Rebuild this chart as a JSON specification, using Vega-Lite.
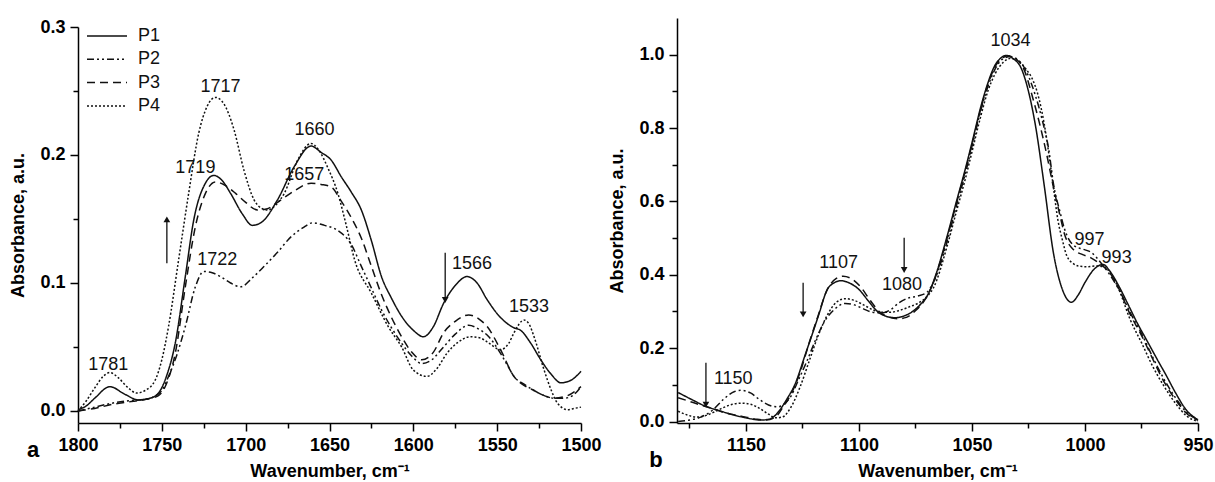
{
"$schema": "https://vega.github.io/schema/vega-lite/v6.json",
"padding": {"left": 9, "top": 18, "right": 0, "bottom": 0},
"spacing": 6,
"config": {
  "view": {"stroke": null},
  "font": "Liberation Sans",
  "axis": {"domainColor": "#000", "domainWidth": 1.5, "tickColor": "#000", "tickWidth": 1.5, "labelColor": "#000", "labelFont": "Liberation Sans", "labelFontSize": 18, "labelFontWeight": "bold", "titleColor": "#000", "titleFont": "Liberation Sans", "titleFontSize": 18, "titleFontWeight": "bold", "grid": false, "labelFlush": false, "labelOverlap": false},
  "text": {"font": "Liberation Sans", "fontSize": 18, "color": "#111"}
},
"datasets": {
  "specA": [
    {"s":"P1","wn":1800,"a":0.001},{"s":"P1","wn":1795,"a":0.004},{"s":"P1","wn":1790,"a":0.010},{"s":"P1","wn":1781,"a":0.019},{"s":"P1","wn":1772,"a":0.013},{"s":"P1","wn":1764,"a":0.0086},{"s":"P1","wn":1757,"a":0.010},{"s":"P1","wn":1752,"a":0.014},{"s":"P1","wn":1747,"a":0.028},{"s":"P1","wn":1742,"a":0.053},{"s":"P1","wn":1736,"a":0.105},{"s":"P1","wn":1731,"a":0.149},{"s":"P1","wn":1724,"a":0.178},{"s":"P1","wn":1719,"a":0.184},{"s":"P1","wn":1714,"a":0.180},{"s":"P1","wn":1709,"a":0.170},{"s":"P1","wn":1702,"a":0.154},{"s":"P1","wn":1696,"a":0.145},{"s":"P1","wn":1690,"a":0.148},{"s":"P1","wn":1681,"a":0.165},{"s":"P1","wn":1671,"a":0.191},{"s":"P1","wn":1661,"a":0.207},{"s":"P1","wn":1655,"a":0.202},{"s":"P1","wn":1649,"a":0.196},{"s":"P1","wn":1643,"a":0.183},{"s":"P1","wn":1637,"a":0.171},{"s":"P1","wn":1631,"a":0.157},{"s":"P1","wn":1625,"a":0.133},{"s":"P1","wn":1619,"a":0.105},{"s":"P1","wn":1613,"a":0.088},{"s":"P1","wn":1607,"a":0.074},{"s":"P1","wn":1600,"a":0.063},{"s":"P1","wn":1594,"a":0.058},{"s":"P1","wn":1588,"a":0.066},{"s":"P1","wn":1582,"a":0.084},{"s":"P1","wn":1575,"a":0.098},{"s":"P1","wn":1568,"a":0.105},{"s":"P1","wn":1562,"a":0.100},{"s":"P1","wn":1556,"a":0.087},{"s":"P1","wn":1548,"a":0.073},{"s":"P1","wn":1540,"a":0.065},{"s":"P1","wn":1536,"a":0.063},{"s":"P1","wn":1530,"a":0.053},{"s":"P1","wn":1524,"a":0.040},{"s":"P1","wn":1518,"a":0.029},{"s":"P1","wn":1512,"a":0.022},{"s":"P1","wn":1506,"a":0.024},{"s":"P1","wn":1500,"a":0.031},
    {"s":"P2","wn":1800,"a":0.000},{"s":"P2","wn":1790,"a":0.003},{"s":"P2","wn":1780,"a":0.006},{"s":"P2","wn":1770,"a":0.008},{"s":"P2","wn":1760,"a":0.009},{"s":"P2","wn":1755,"a":0.011},{"s":"P2","wn":1750,"a":0.016},{"s":"P2","wn":1746,"a":0.027},{"s":"P2","wn":1741,"a":0.044},{"s":"P2","wn":1736,"a":0.066},{"s":"P2","wn":1730,"a":0.097},{"s":"P2","wn":1725,"a":0.109},{"s":"P2","wn":1720,"a":0.108},{"s":"P2","wn":1715,"a":0.105},{"s":"P2","wn":1709,"a":0.100},{"s":"P2","wn":1703,"a":0.097},{"s":"P2","wn":1696,"a":0.104},{"s":"P2","wn":1689,"a":0.113},{"s":"P2","wn":1681,"a":0.124},{"s":"P2","wn":1673,"a":0.136},{"s":"P2","wn":1666,"a":0.143},{"s":"P2","wn":1660,"a":0.147},{"s":"P2","wn":1653,"a":0.145},{"s":"P2","wn":1645,"a":0.141},{"s":"P2","wn":1637,"a":0.130},{"s":"P2","wn":1631,"a":0.113},{"s":"P2","wn":1625,"a":0.096},{"s":"P2","wn":1619,"a":0.079},{"s":"P2","wn":1613,"a":0.065},{"s":"P2","wn":1607,"a":0.053},{"s":"P2","wn":1601,"a":0.043},{"s":"P2","wn":1595,"a":0.037},{"s":"P2","wn":1589,"a":0.040},{"s":"P2","wn":1582,"a":0.050},{"s":"P2","wn":1575,"a":0.060},{"s":"P2","wn":1567,"a":0.067},{"s":"P2","wn":1561,"a":0.064},{"s":"P2","wn":1555,"a":0.058},{"s":"P2","wn":1548,"a":0.045},{"s":"P2","wn":1544,"a":0.036},{"s":"P2","wn":1540,"a":0.027},{"s":"P2","wn":1534,"a":0.021},{"s":"P2","wn":1528,"a":0.016},{"s":"P2","wn":1522,"a":0.012},{"s":"P2","wn":1516,"a":0.010},{"s":"P2","wn":1510,"a":0.010},{"s":"P2","wn":1505,"a":0.012},{"s":"P2","wn":1500,"a":0.019},
    {"s":"P3","wn":1800,"a":0.000},{"s":"P3","wn":1790,"a":0.002},{"s":"P3","wn":1780,"a":0.005},{"s":"P3","wn":1770,"a":0.007},{"s":"P3","wn":1760,"a":0.009},{"s":"P3","wn":1752,"a":0.012},{"s":"P3","wn":1747,"a":0.022},{"s":"P3","wn":1742,"a":0.045},{"s":"P3","wn":1736,"a":0.097},{"s":"P3","wn":1730,"a":0.144},{"s":"P3","wn":1724,"a":0.170},{"s":"P3","wn":1718,"a":0.179},{"s":"P3","wn":1712,"a":0.176},{"s":"P3","wn":1706,"a":0.170},{"s":"P3","wn":1700,"a":0.163},{"s":"P3","wn":1693,"a":0.157},{"s":"P3","wn":1687,"a":0.158},{"s":"P3","wn":1681,"a":0.163},{"s":"P3","wn":1671,"a":0.172},{"s":"P3","wn":1661,"a":0.178},{"s":"P3","wn":1655,"a":0.177},{"s":"P3","wn":1649,"a":0.175},{"s":"P3","wn":1643,"a":0.164},{"s":"P3","wn":1637,"a":0.151},{"s":"P3","wn":1631,"a":0.135},{"s":"P3","wn":1625,"a":0.113},{"s":"P3","wn":1619,"a":0.091},{"s":"P3","wn":1613,"a":0.073},{"s":"P3","wn":1607,"a":0.058},{"s":"P3","wn":1601,"a":0.046},{"s":"P3","wn":1595,"a":0.040},{"s":"P3","wn":1588,"a":0.046},{"s":"P3","wn":1582,"a":0.061},{"s":"P3","wn":1575,"a":0.070},{"s":"P3","wn":1567,"a":0.075},{"s":"P3","wn":1561,"a":0.072},{"s":"P3","wn":1556,"a":0.066},{"s":"P3","wn":1548,"a":0.048},{"s":"P3","wn":1540,"a":0.027},{"s":"P3","wn":1534,"a":0.020},{"s":"P3","wn":1528,"a":0.016},{"s":"P3","wn":1522,"a":0.012},{"s":"P3","wn":1516,"a":0.010},{"s":"P3","wn":1508,"a":0.012},{"s":"P3","wn":1500,"a":0.019},
    {"s":"P4","wn":1800,"a":0.000},{"s":"P4","wn":1795,"a":0.008},{"s":"P4","wn":1790,"a":0.018},{"s":"P4","wn":1785,"a":0.027},{"s":"P4","wn":1781,"a":0.030},{"s":"P4","wn":1776,"a":0.026},{"s":"P4","wn":1770,"a":0.018},{"s":"P4","wn":1765,"a":0.014},{"s":"P4","wn":1760,"a":0.016},{"s":"P4","wn":1754,"a":0.024},{"s":"P4","wn":1750,"a":0.040},{"s":"P4","wn":1746,"a":0.066},{"s":"P4","wn":1740,"a":0.118},{"s":"P4","wn":1734,"a":0.170},{"s":"P4","wn":1728,"a":0.217},{"s":"P4","wn":1723,"a":0.238},{"s":"P4","wn":1718,"a":0.245},{"s":"P4","wn":1713,"a":0.240},{"s":"P4","wn":1707,"a":0.220},{"s":"P4","wn":1701,"a":0.188},{"s":"P4","wn":1695,"a":0.165},{"s":"P4","wn":1690,"a":0.158},{"s":"P4","wn":1687,"a":0.157},{"s":"P4","wn":1682,"a":0.161},{"s":"P4","wn":1677,"a":0.170},{"s":"P4","wn":1669,"a":0.196},{"s":"P4","wn":1661,"a":0.209},{"s":"P4","wn":1656,"a":0.203},{"s":"P4","wn":1651,"a":0.190},{"s":"P4","wn":1645,"a":0.170},{"s":"P4","wn":1640,"a":0.145},{"s":"P4","wn":1635,"a":0.118},{"s":"P4","wn":1625,"a":0.092},{"s":"P4","wn":1615,"a":0.066},{"s":"P4","wn":1607,"a":0.050},{"s":"P4","wn":1600,"a":0.032},{"s":"P4","wn":1592,"a":0.027},{"s":"P4","wn":1586,"a":0.033},{"s":"P4","wn":1580,"a":0.045},{"s":"P4","wn":1573,"a":0.054},{"s":"P4","wn":1566,"a":0.058},{"s":"P4","wn":1560,"a":0.057},{"s":"P4","wn":1556,"a":0.054},{"s":"P4","wn":1548,"a":0.048},{"s":"P4","wn":1543,"a":0.053},{"s":"P4","wn":1540,"a":0.061},{"s":"P4","wn":1534,"a":0.071},{"s":"P4","wn":1531,"a":0.068},{"s":"P4","wn":1528,"a":0.058},{"s":"P4","wn":1522,"a":0.032},{"s":"P4","wn":1518,"a":0.017},{"s":"P4","wn":1514,"a":0.006},{"s":"P4","wn":1508,"a":0.001},{"s":"P4","wn":1504,"a":0.002},{"s":"P4","wn":1500,"a":0.003}
  ],
  "specB": [
    {"s":"P1","wn":1180,"a":0.079},{"s":"P1","wn":1174,"a":0.060},{"s":"P1","wn":1168,"a":0.042},{"s":"P1","wn":1162,"a":0.030},{"s":"P1","wn":1156,"a":0.019},{"s":"P1","wn":1150,"a":0.010},{"s":"P1","wn":1143,"a":0.004},{"s":"P1","wn":1139,"a":0.008},{"s":"P1","wn":1136,"a":0.024},{"s":"P1","wn":1132,"a":0.060},{"s":"P1","wn":1128,"a":0.106},{"s":"P1","wn":1124,"a":0.178},{"s":"P1","wn":1120,"a":0.250},{"s":"P1","wn":1118,"a":0.287},{"s":"P1","wn":1114,"a":0.360},{"s":"P1","wn":1111,"a":0.378},{"s":"P1","wn":1108,"a":0.384},{"s":"P1","wn":1104,"a":0.377},{"s":"P1","wn":1100,"a":0.360},{"s":"P1","wn":1096,"a":0.330},{"s":"P1","wn":1092,"a":0.301},{"s":"P1","wn":1088,"a":0.287},{"s":"P1","wn":1084,"a":0.283},{"s":"P1","wn":1080,"a":0.288},{"s":"P1","wn":1077,"a":0.297},{"s":"P1","wn":1073,"a":0.318},{"s":"P1","wn":1069,"a":0.352},{"s":"P1","wn":1066,"a":0.400},{"s":"P1","wn":1061,"a":0.505},{"s":"P1","wn":1057,"a":0.597},{"s":"P1","wn":1053,"a":0.687},{"s":"P1","wn":1050,"a":0.760},{"s":"P1","wn":1046,"a":0.860},{"s":"P1","wn":1043,"a":0.922},{"s":"P1","wn":1040,"a":0.969},{"s":"P1","wn":1037,"a":0.992},{"s":"P1","wn":1035,"a":0.998},{"s":"P1","wn":1032,"a":0.990},{"s":"P1","wn":1028,"a":0.960},{"s":"P1","wn":1025,"a":0.900},{"s":"P1","wn":1022,"a":0.810},{"s":"P1","wn":1018,"a":0.642},{"s":"P1","wn":1014,"a":0.461},{"s":"P1","wn":1010,"a":0.360},{"s":"P1","wn":1006,"a":0.325},{"s":"P1","wn":1003,"a":0.345},{"s":"P1","wn":1000,"a":0.379},{"s":"P1","wn":996,"a":0.415},{"s":"P1","wn":992,"a":0.428},{"s":"P1","wn":989,"a":0.410},{"s":"P1","wn":985,"a":0.369},{"s":"P1","wn":981,"a":0.320},{"s":"P1","wn":977,"a":0.270},{"s":"P1","wn":972,"a":0.214},{"s":"P1","wn":968,"a":0.169},{"s":"P1","wn":964,"a":0.125},{"s":"P1","wn":960,"a":0.079},{"s":"P1","wn":955,"a":0.030},{"s":"P1","wn":950,"a":0.005},
    {"s":"P2","wn":1180,"a":0.000},{"s":"P2","wn":1175,"a":0.004},{"s":"P2","wn":1170,"a":0.012},{"s":"P2","wn":1165,"a":0.030},{"s":"P2","wn":1160,"a":0.060},{"s":"P2","wn":1155,"a":0.082},{"s":"P2","wn":1152,"a":0.085},{"s":"P2","wn":1148,"a":0.078},{"s":"P2","wn":1144,"a":0.060},{"s":"P2","wn":1140,"a":0.045},{"s":"P2","wn":1136,"a":0.040},{"s":"P2","wn":1133,"a":0.048},{"s":"P2","wn":1130,"a":0.070},{"s":"P2","wn":1127,"a":0.110},{"s":"P2","wn":1123,"a":0.165},{"s":"P2","wn":1119,"a":0.225},{"s":"P2","wn":1115,"a":0.275},{"s":"P2","wn":1111,"a":0.305},{"s":"P2","wn":1106,"a":0.322},{"s":"P2","wn":1102,"a":0.318},{"s":"P2","wn":1098,"a":0.307},{"s":"P2","wn":1094,"a":0.298},{"s":"P2","wn":1090,"a":0.296},{"s":"P2","wn":1086,"a":0.305},{"s":"P2","wn":1082,"a":0.325},{"s":"P2","wn":1078,"a":0.337},{"s":"P2","wn":1074,"a":0.342},{"s":"P2","wn":1070,"a":0.352},{"s":"P2","wn":1067,"a":0.380},{"s":"P2","wn":1061,"a":0.490},{"s":"P2","wn":1057,"a":0.585},{"s":"P2","wn":1053,"a":0.675},{"s":"P2","wn":1050,"a":0.750},{"s":"P2","wn":1046,"a":0.850},{"s":"P2","wn":1043,"a":0.912},{"s":"P2","wn":1040,"a":0.958},{"s":"P2","wn":1036,"a":0.990},{"s":"P2","wn":1033,"a":0.995},{"s":"P2","wn":1030,"a":0.988},{"s":"P2","wn":1026,"a":0.955},{"s":"P2","wn":1022,"a":0.890},{"s":"P2","wn":1019,"a":0.824},{"s":"P2","wn":1016,"a":0.740},{"s":"P2","wn":1014,"a":0.650},{"s":"P2","wn":1011,"a":0.570},{"s":"P2","wn":1009,"a":0.524},{"s":"P2","wn":1005,"a":0.480},{"s":"P2","wn":1001,"a":0.470},{"s":"P2","wn":997,"a":0.460},{"s":"P2","wn":993,"a":0.433},{"s":"P2","wn":989,"a":0.400},{"s":"P2","wn":985,"a":0.360},{"s":"P2","wn":980,"a":0.297},{"s":"P2","wn":975,"a":0.240},{"s":"P2","wn":970,"a":0.175},{"s":"P2","wn":965,"a":0.115},{"s":"P2","wn":960,"a":0.065},{"s":"P2","wn":955,"a":0.025},{"s":"P2","wn":950,"a":0.005},
    {"s":"P3","wn":1180,"a":0.065},{"s":"P3","wn":1175,"a":0.055},{"s":"P3","wn":1170,"a":0.045},{"s":"P3","wn":1165,"a":0.036},{"s":"P3","wn":1160,"a":0.025},{"s":"P3","wn":1155,"a":0.018},{"s":"P3","wn":1150,"a":0.012},{"s":"P3","wn":1145,"a":0.006},{"s":"P3","wn":1141,"a":0.004},{"s":"P3","wn":1137,"a":0.012},{"s":"P3","wn":1133,"a":0.045},{"s":"P3","wn":1130,"a":0.075},{"s":"P3","wn":1126,"a":0.135},{"s":"P3","wn":1122,"a":0.215},{"s":"P3","wn":1118,"a":0.290},{"s":"P3","wn":1114,"a":0.360},{"s":"P3","wn":1110,"a":0.390},{"s":"P3","wn":1107,"a":0.396},{"s":"P3","wn":1103,"a":0.388},{"s":"P3","wn":1099,"a":0.365},{"s":"P3","wn":1095,"a":0.330},{"s":"P3","wn":1091,"a":0.300},{"s":"P3","wn":1087,"a":0.285},{"s":"P3","wn":1083,"a":0.280},{"s":"P3","wn":1079,"a":0.284},{"s":"P3","wn":1075,"a":0.302},{"s":"P3","wn":1071,"a":0.330},{"s":"P3","wn":1067,"a":0.380},{"s":"P3","wn":1061,"a":0.500},{"s":"P3","wn":1057,"a":0.592},{"s":"P3","wn":1053,"a":0.682},{"s":"P3","wn":1050,"a":0.755},{"s":"P3","wn":1046,"a":0.855},{"s":"P3","wn":1043,"a":0.918},{"s":"P3","wn":1040,"a":0.965},{"s":"P3","wn":1036,"a":0.993},{"s":"P3","wn":1034,"a":0.997},{"s":"P3","wn":1031,"a":0.990},{"s":"P3","wn":1027,"a":0.960},{"s":"P3","wn":1023,"a":0.880},{"s":"P3","wn":1020,"a":0.810},{"s":"P3","wn":1017,"a":0.730},{"s":"P3","wn":1014,"a":0.640},{"s":"P3","wn":1011,"a":0.560},{"s":"P3","wn":1009,"a":0.510},{"s":"P3","wn":1005,"a":0.468},{"s":"P3","wn":1001,"a":0.455},{"s":"P3","wn":997,"a":0.445},{"s":"P3","wn":993,"a":0.428},{"s":"P3","wn":989,"a":0.405},{"s":"P3","wn":985,"a":0.362},{"s":"P3","wn":980,"a":0.292},{"s":"P3","wn":975,"a":0.235},{"s":"P3","wn":970,"a":0.170},{"s":"P3","wn":965,"a":0.108},{"s":"P3","wn":960,"a":0.060},{"s":"P3","wn":955,"a":0.022},{"s":"P3","wn":950,"a":0.003},
    {"s":"P4","wn":1180,"a":0.028},{"s":"P4","wn":1176,"a":0.018},{"s":"P4","wn":1172,"a":0.012},{"s":"P4","wn":1168,"a":0.016},{"s":"P4","wn":1164,"a":0.026},{"s":"P4","wn":1160,"a":0.038},{"s":"P4","wn":1156,"a":0.047},{"s":"P4","wn":1152,"a":0.050},{"s":"P4","wn":1148,"a":0.047},{"s":"P4","wn":1144,"a":0.036},{"s":"P4","wn":1140,"a":0.020},{"s":"P4","wn":1137,"a":0.010},{"s":"P4","wn":1134,"a":0.012},{"s":"P4","wn":1130,"a":0.040},{"s":"P4","wn":1126,"a":0.095},{"s":"P4","wn":1122,"a":0.165},{"s":"P4","wn":1118,"a":0.235},{"s":"P4","wn":1114,"a":0.290},{"s":"P4","wn":1110,"a":0.325},{"s":"P4","wn":1106,"a":0.335},{"s":"P4","wn":1102,"a":0.330},{"s":"P4","wn":1098,"a":0.318},{"s":"P4","wn":1094,"a":0.305},{"s":"P4","wn":1090,"a":0.298},{"s":"P4","wn":1086,"a":0.298},{"s":"P4","wn":1082,"a":0.303},{"s":"P4","wn":1078,"a":0.312},{"s":"P4","wn":1074,"a":0.322},{"s":"P4","wn":1070,"a":0.340},{"s":"P4","wn":1067,"a":0.365},{"s":"P4","wn":1061,"a":0.478},{"s":"P4","wn":1057,"a":0.570},{"s":"P4","wn":1053,"a":0.660},{"s":"P4","wn":1050,"a":0.735},{"s":"P4","wn":1046,"a":0.835},{"s":"P4","wn":1043,"a":0.900},{"s":"P4","wn":1040,"a":0.945},{"s":"P4","wn":1036,"a":0.980},{"s":"P4","wn":1033,"a":0.990},{"s":"P4","wn":1030,"a":0.985},{"s":"P4","wn":1026,"a":0.960},{"s":"P4","wn":1023,"a":0.930},{"s":"P4","wn":1021,"a":0.895},{"s":"P4","wn":1018,"a":0.810},{"s":"P4","wn":1016,"a":0.730},{"s":"P4","wn":1014,"a":0.640},{"s":"P4","wn":1012,"a":0.550},{"s":"P4","wn":1010,"a":0.495},{"s":"P4","wn":1008,"a":0.451},{"s":"P4","wn":1005,"a":0.430},{"s":"P4","wn":1003,"a":0.424},{"s":"P4","wn":999,"a":0.422},{"s":"P4","wn":995,"a":0.424},{"s":"P4","wn":992,"a":0.422},{"s":"P4","wn":988,"a":0.398},{"s":"P4","wn":985,"a":0.360},{"s":"P4","wn":980,"a":0.278},{"s":"P4","wn":975,"a":0.215},{"s":"P4","wn":970,"a":0.150},{"s":"P4","wn":965,"a":0.096},{"s":"P4","wn":960,"a":0.050},{"s":"P4","wn":955,"a":0.015},{"s":"P4","wn":950,"a":0.000}
  ],
  "labA": [
    {"t":"1781","wn":1782,"a":0.036},{"t":"1717","wn":1715,"a":0.253},{"t":"1719","wn":1730,"a":0.190},{"t":"1660","wn":1659,"a":0.2195},{"t":"1657","wn":1665,"a":0.184},{"t":"1722","wn":1717,"a":0.118},{"t":"1566","wn":1565,"a":0.115},{"t":"1533","wn":1531,"a":0.0815}
  ],
  "labB": [
    {"t":"1150","wn":1155.6,"a":0.116},{"t":"1107","wn":1109,"a":0.433},{"t":"1080","wn":1081,"a":0.371},{"t":"1034","wn":1033,"a":1.037},{"t":"997","wn":998,"a":0.496},{"t":"993","wn":986,"a":0.446}
  ],
  "arrA": [
    {"wn":1747,"y0":0.1154,"y1":0.1497,"dir":"up"},{"wn":1581,"y0":0.1237,"y1":0.0867,"dir":"down"}
  ],
  "arrB": [
    {"wn":1167.7,"y0":0.160,"y1":0.046,"dir":"down"},{"wn":1124.7,"y0":0.378,"y1":0.292,"dir":"down"},{"wn":1080,"y0":0.501,"y1":0.413,"dir":"down"}
  ]
},
"hconcat": [
  {
    "width": 503, "height": 405,
    "resolve": {"axis": {"x": "independent", "y": "independent"}},
    "layer": [
      {
        "data": {"name": "specA"},
        "mark": {"type": "line", "interpolate": "monotone", "strokeWidth": 1.5, "color": "#111"},
        "encoding": {
          "x": {"field": "wn", "type": "quantitative", "scale": {"domain": [1800, 1500], "nice": false, "zero": false},
                "axis": {"values": [1800,1750,1700,1650,1600,1550,1500], "format": "d", "tickSize": 8, "labelPadding": 5, "title": "Wavenumber, cm⁻¹", "titlePadding": 8, "orient": "bottom"}},
          "y": {"field": "a", "type": "quantitative", "scale": {"domain": [-0.0094, 0.3], "range": [405, 9], "nice": false, "zero": false},
                "axis": {"values": [0, 0.1, 0.2, 0.3], "format": ".1f", "tickSize": 8, "labelPadding": 5, "title": "Absorbance, a.u.", "titlePadding": 12, "orient": "left"}},
          "strokeDash": {"field": "s", "type": "nominal",
                "scale": {"domain": ["P1","P2","P3","P4"], "range": [[1,0],[7,3,2,3,2,3],[8,5],[2,2]]},
                "legend": {"title": null, "orient": "top-left", "offset": 8, "padding": 0, "symbolType": "stroke", "symbolSize": 1600, "symbolStrokeWidth": 1.5, "symbolStrokeColor": "#111", "clipHeight": 20, "rowPadding": 3.3, "labelFontSize": 18, "labelFont": "Liberation Sans", "labelColor": "#111", "labelOffset": 10}},
          "order": {"field": "wn", "sort": "descending"}
        }
      },
      {
        "data": {"name": "labA"},
        "mark": {"type": "text", "align": "center", "baseline": "middle"},
        "encoding": {
          "x": {"field": "wn", "type": "quantitative", "scale": {"domain": [1800, 1500], "nice": false, "zero": false},
                "axis": {"values": [1775,1725,1675,1625,1575,1525], "labels": false, "domain": false, "tickSize": 5, "title": null, "orient": "bottom"}},
          "y": {"field": "a", "type": "quantitative", "scale": {"domain": [-0.0094, 0.3], "range": [405, 9], "nice": false, "zero": false},
                "axis": {"values": [0.05, 0.15, 0.25], "labels": false, "domain": false, "tickSize": 5, "title": null, "orient": "left"}},
          "text": {"field": "t"}
        }
      },
      {
        "data": {"name": "arrA"},
        "mark": {"type": "rule", "strokeWidth": 1.3, "color": "#111"},
        "encoding": {
          "x": {"field": "wn", "type": "quantitative", "scale": {"domain": [1800, 1500], "nice": false, "zero": false}, "axis": null},
          "y": {"field": "y0", "type": "quantitative", "scale": {"domain": [-0.0094, 0.3], "range": [405, 9], "nice": false, "zero": false}, "axis": null},
          "y2": {"field": "y1"}
        }
      },
      {
        "data": {"name": "arrA"},
        "mark": {"type": "point", "filled": true, "size": 45, "color": "#111", "opacity": 1},
        "encoding": {
          "x": {"field": "wn", "type": "quantitative", "scale": {"domain": [1800, 1500], "nice": false, "zero": false}, "axis": null},
          "y": {"field": "y1", "type": "quantitative", "scale": {"domain": [-0.0094, 0.3], "range": [405, 9], "nice": false, "zero": false}, "axis": null},
          "shape": {"field": "dir", "type": "nominal", "scale": {"domain": ["up","down"], "range": ["triangle-up","triangle-down"]}, "legend": null}
        }
      },
      {
        "data": {"values": [{"t": "a"}]},
        "mark": {"type": "text", "fontSize": 22, "fontWeight": "bold", "align": "center", "baseline": "alphabetic", "color": "#000"},
        "encoding": {
          "x": {"datum": 1826.8, "type": "quantitative", "scale": {"domain": [1800, 1500], "nice": false, "zero": false}, "axis": null},
          "y": {"datum": -0.036, "type": "quantitative", "scale": {"domain": [-0.0094, 0.3], "range": [405, 9], "nice": false, "zero": false}, "axis": null},
          "text": {"field": "t"}
        }
      }
    ]
  },
  {
    "width": 521, "height": 405,
    "resolve": {"axis": {"x": "independent", "y": "independent"}},
    "layer": [
      {
        "data": {"name": "specB"},
        "mark": {"type": "line", "interpolate": "monotone", "strokeWidth": 1.5, "color": "#111"},
        "encoding": {
          "x": {"field": "wn", "type": "quantitative", "scale": {"domain": [1180.5, 950], "nice": false, "zero": false},
                "axis": {"values": [1150,1100,1050,1000,950], "format": "d", "tickSize": 8, "labelPadding": 5, "title": "Wavenumber, cm⁻¹", "titlePadding": 8, "orient": "bottom"}},
          "y": {"field": "a", "type": "quantitative", "scale": {"domain": [-0.004, 1.1], "nice": false, "zero": false},
                "axis": {"values": [0, 0.2, 0.4, 0.6, 0.8, 1.0], "format": ".1f", "tickSize": 8, "labelPadding": 5, "title": "Absorbance, a.u.", "titlePadding": 12, "orient": "left"}},
          "strokeDash": {"field": "s", "type": "nominal",
                "scale": {"domain": ["P1","P2","P3","P4"], "range": [[1,0],[7,3,2,3,2,3],[8,5],[2,2]]},
                "legend": {"title": null, "orient": "top-left", "offset": 8, "padding": 0, "symbolType": "stroke", "symbolSize": 1600, "symbolStrokeWidth": 1.5, "symbolStrokeColor": "#111", "clipHeight": 20, "rowPadding": 3.3, "labelFontSize": 18, "labelFont": "Liberation Sans", "labelColor": "#111", "labelOffset": 10}},
          "order": {"field": "wn", "sort": "descending"}
        }
      },
      {
        "data": {"name": "labB"},
        "mark": {"type": "text", "align": "center", "baseline": "middle"},
        "encoding": {
          "x": {"field": "wn", "type": "quantitative", "scale": {"domain": [1180.5, 950], "nice": false, "zero": false},
                "axis": {"values": [1175,1125,1075,1025,975], "labels": false, "domain": false, "tickSize": 5, "title": null, "orient": "bottom"}},
          "y": {"field": "a", "type": "quantitative", "scale": {"domain": [-0.004, 1.1], "nice": false, "zero": false},
                "axis": {"values": [0.1, 0.3, 0.5, 0.7, 0.9], "labels": false, "domain": false, "tickSize": 5, "title": null, "orient": "left"}},
          "text": {"field": "t"}
        }
      },
      {
        "data": {"name": "arrB"},
        "mark": {"type": "rule", "strokeWidth": 1.3, "color": "#111"},
        "encoding": {
          "x": {"field": "wn", "type": "quantitative", "scale": {"domain": [1180.5, 950], "nice": false, "zero": false}, "axis": null},
          "y": {"field": "y0", "type": "quantitative", "scale": {"domain": [-0.004, 1.1], "nice": false, "zero": false}, "axis": null},
          "y2": {"field": "y1"}
        }
      },
      {
        "data": {"name": "arrB"},
        "mark": {"type": "point", "filled": true, "size": 45, "color": "#111", "opacity": 1},
        "encoding": {
          "x": {"field": "wn", "type": "quantitative", "scale": {"domain": [1180.5, 950], "nice": false, "zero": false}, "axis": null},
          "y": {"field": "y1", "type": "quantitative", "scale": {"domain": [-0.004, 1.1], "nice": false, "zero": false}, "axis": null},
          "shape": {"field": "dir", "type": "nominal", "scale": {"domain": ["up","down"], "range": ["triangle-up","triangle-down"]}, "legend": null}
        }
      },
      {
        "data": {"values": [{"t": "b"}]},
        "mark": {"type": "text", "fontSize": 22, "fontWeight": "bold", "align": "center", "baseline": "alphabetic", "color": "#000"},
        "encoding": {
          "x": {"datum": 1189.8, "type": "quantitative", "scale": {"domain": [1180.5, 950], "nice": false, "zero": false}, "axis": null},
          "y": {"datum": -0.1235, "type": "quantitative", "scale": {"domain": [-0.004, 1.1], "nice": false, "zero": false}, "axis": null},
          "text": {"field": "t"}
        }
      }
    ]
  }
]
}
